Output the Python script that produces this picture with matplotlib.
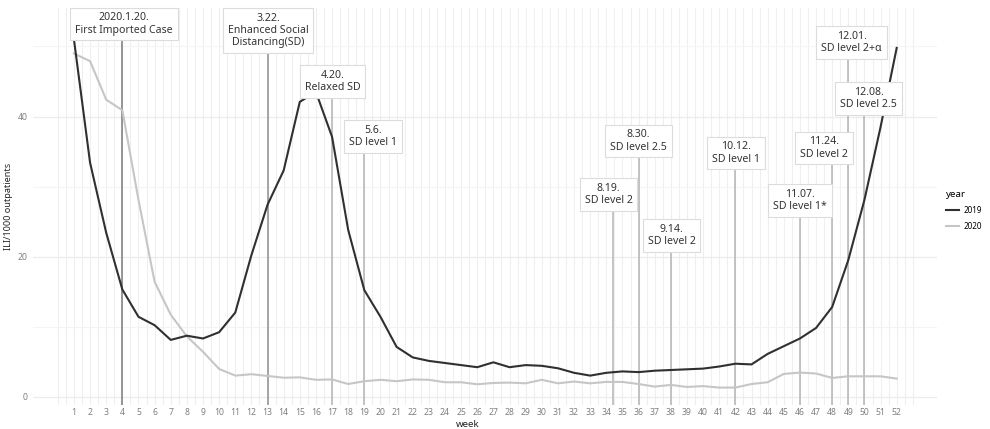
import numpy as np
import matplotlib
matplotlib.use("Agg")
import matplotlib.pyplot as plt
from matplotlib.lines import Line2D

plt.rcParams['font.family'] = ['Noto Sans', 'DejaVu Sans']

# weekly ILI rate per 1000 outpatients
weeks = list(range(1, 53))
ili_2019 = [51.0, 33.4, 23.4, 15.3, 11.4, 10.2, 8.1, 8.7, 8.3, 9.2,
            12.0, 20.2, 27.4, 32.3, 42.1, 43.5, 37.1, 23.8, 15.2, 11.4,
            7.1, 5.6, 5.1, 4.8, 4.5, 4.2, 4.9, 4.2, 4.5, 4.4,
            4.05, 3.4, 3.0, 3.4, 3.6, 3.5, 3.7, 3.8, 3.9, 4.0,
            4.3, 4.7, 4.6, 6.1, 7.2, 8.3, 9.8, 12.8, 19.5, 28.1,
            38.5, 49.8]
ili_2020 = [49.0, 47.9, 42.4, 40.9, 28.1, 16.4, 11.7, 8.6, 6.4, 3.95,
            3.0, 3.2, 2.95, 2.7, 2.75, 2.4, 2.45, 1.8, 2.2, 2.4,
            2.2, 2.45, 2.4, 2.05, 2.05, 1.76, 1.95, 2.0, 1.9, 2.4,
            1.9, 2.15, 1.9, 2.1, 2.1, 1.8, 1.43, 1.67, 1.38, 1.5,
            1.29, 1.29, 1.8, 2.05, 3.24, 3.43, 3.3, 2.67, 2.9, 2.9,
            2.9, 2.57]

# policy events: week of the event, label text, label position
event_weeks = [4, 13, 17, 19, 34.4, 36, 38, 42, 46, 48, 49, 50]
event_text = ["2020.1.20.\nFirst Imported Case",
              "3.22.\nEnhanced Social\nDistancing(SD)",
              "4.20.\nRelaxed SD",
              "5.6.\nSD level 1",
              "8.19.\nSD level 2",
              "8.30.\nSD level 2.5",
              "9.14.\nSD level 2",
              "10.12.\nSD level 1",
              "11.07.\nSD level 1*",
              "11.24.\nSD level 2",
              "12.01.\nSD level 2+α",
              "12.08.\nSD level 2.5"]
label_x = [4.1, 13.05, 17.05, 19.55, 34.15, 36.0, 38.05, 42.05, 46.0, 47.5, 49.2, 50.25]
label_y = [53.2, 52.3, 45.0, 37.1, 28.9, 36.5, 23.0, 34.8, 28.0, 35.5, 50.6, 42.6]
line_colors = ['#7a7a7a', '#8e8e8e'] + ['#b4b4b4'] * 10

fig = plt.figure(figsize=(9.9, 4.29), dpi=100)
ax = fig.add_axes([0.0333, 0.0559, 0.9132, 0.9255])
xlo, xhi = -1.54, 54.5
ylo, yhi = -1.2, 55.5
ax.set_xlim(xlo, xhi)
ax.set_ylim(ylo, yhi)

# ggplot-like minimal background grid
for gx in np.arange(0, 53.5, 0.5):
    ax.axvline(gx, color='#efefef', lw=0.8, zorder=0)
for gy in [0, 20, 40]:
    ax.axhline(gy, color='#ececec', lw=0.9, zorder=0)
for gy in [10, 30, 50]:
    ax.axhline(gy, color='#f4f4f4', lw=0.8, zorder=0)

# event markers: line from panel bottom up to the label
for wx, ly, c in zip(event_weeks, label_y, line_colors):
    ax.vlines(wx, ylo, ly, color=c, lw=1.1, zorder=1)

ax.plot(weeks, ili_2019, color='#303030', lw=1.5, zorder=3)
ax.plot(weeks, ili_2020, color='#c6c6c6', lw=1.5, zorder=2)

for tx, ty, txt in zip(label_x, label_y, event_text):
    ax.text(tx, ty, txt, ha='center', va='center', fontsize=7.6,
            color='#333333', linespacing=1.15, zorder=5,
            bbox=dict(boxstyle='square,pad=0.45', fc='white', ec='#dcdcdc', lw=0.8))

for s in ax.spines.values():
    s.set_visible(False)
ax.set_xticks(weeks)
ax.set_xticklabels([str(w) for w in weeks])
ax.set_yticks([0, 20, 40])
ax.tick_params(length=0, labelsize=6.2, labelcolor='#7f7f7f')
ax.tick_params(axis='x', pad=2.5)
ax.tick_params(axis='y', pad=4)
fig.text(0.4727, 0.0, 'week', ha='center', va='bottom', fontsize=7,
         fontweight='bold', color='#222222')
ax.set_ylabel('ILI/1000 outpatients', fontsize=6.5, fontweight='bold',
              color='#222222', labelpad=3)

handles = [Line2D([], [], color='#303030', lw=1.5),
           Line2D([], [], color='#c6c6c6', lw=1.5)]
leg = fig.legend(handles, ['2019', '2020'], title='year', loc='upper left',
                 bbox_to_anchor=(0.948, 0.575), frameon=False, fontsize=5.8,
                 title_fontsize=7, handlelength=1.6, handletextpad=0.6,
                 labelspacing=0.9)
leg._legend_box.align = 'left'

fig.savefig('out.png', dpi=100)
